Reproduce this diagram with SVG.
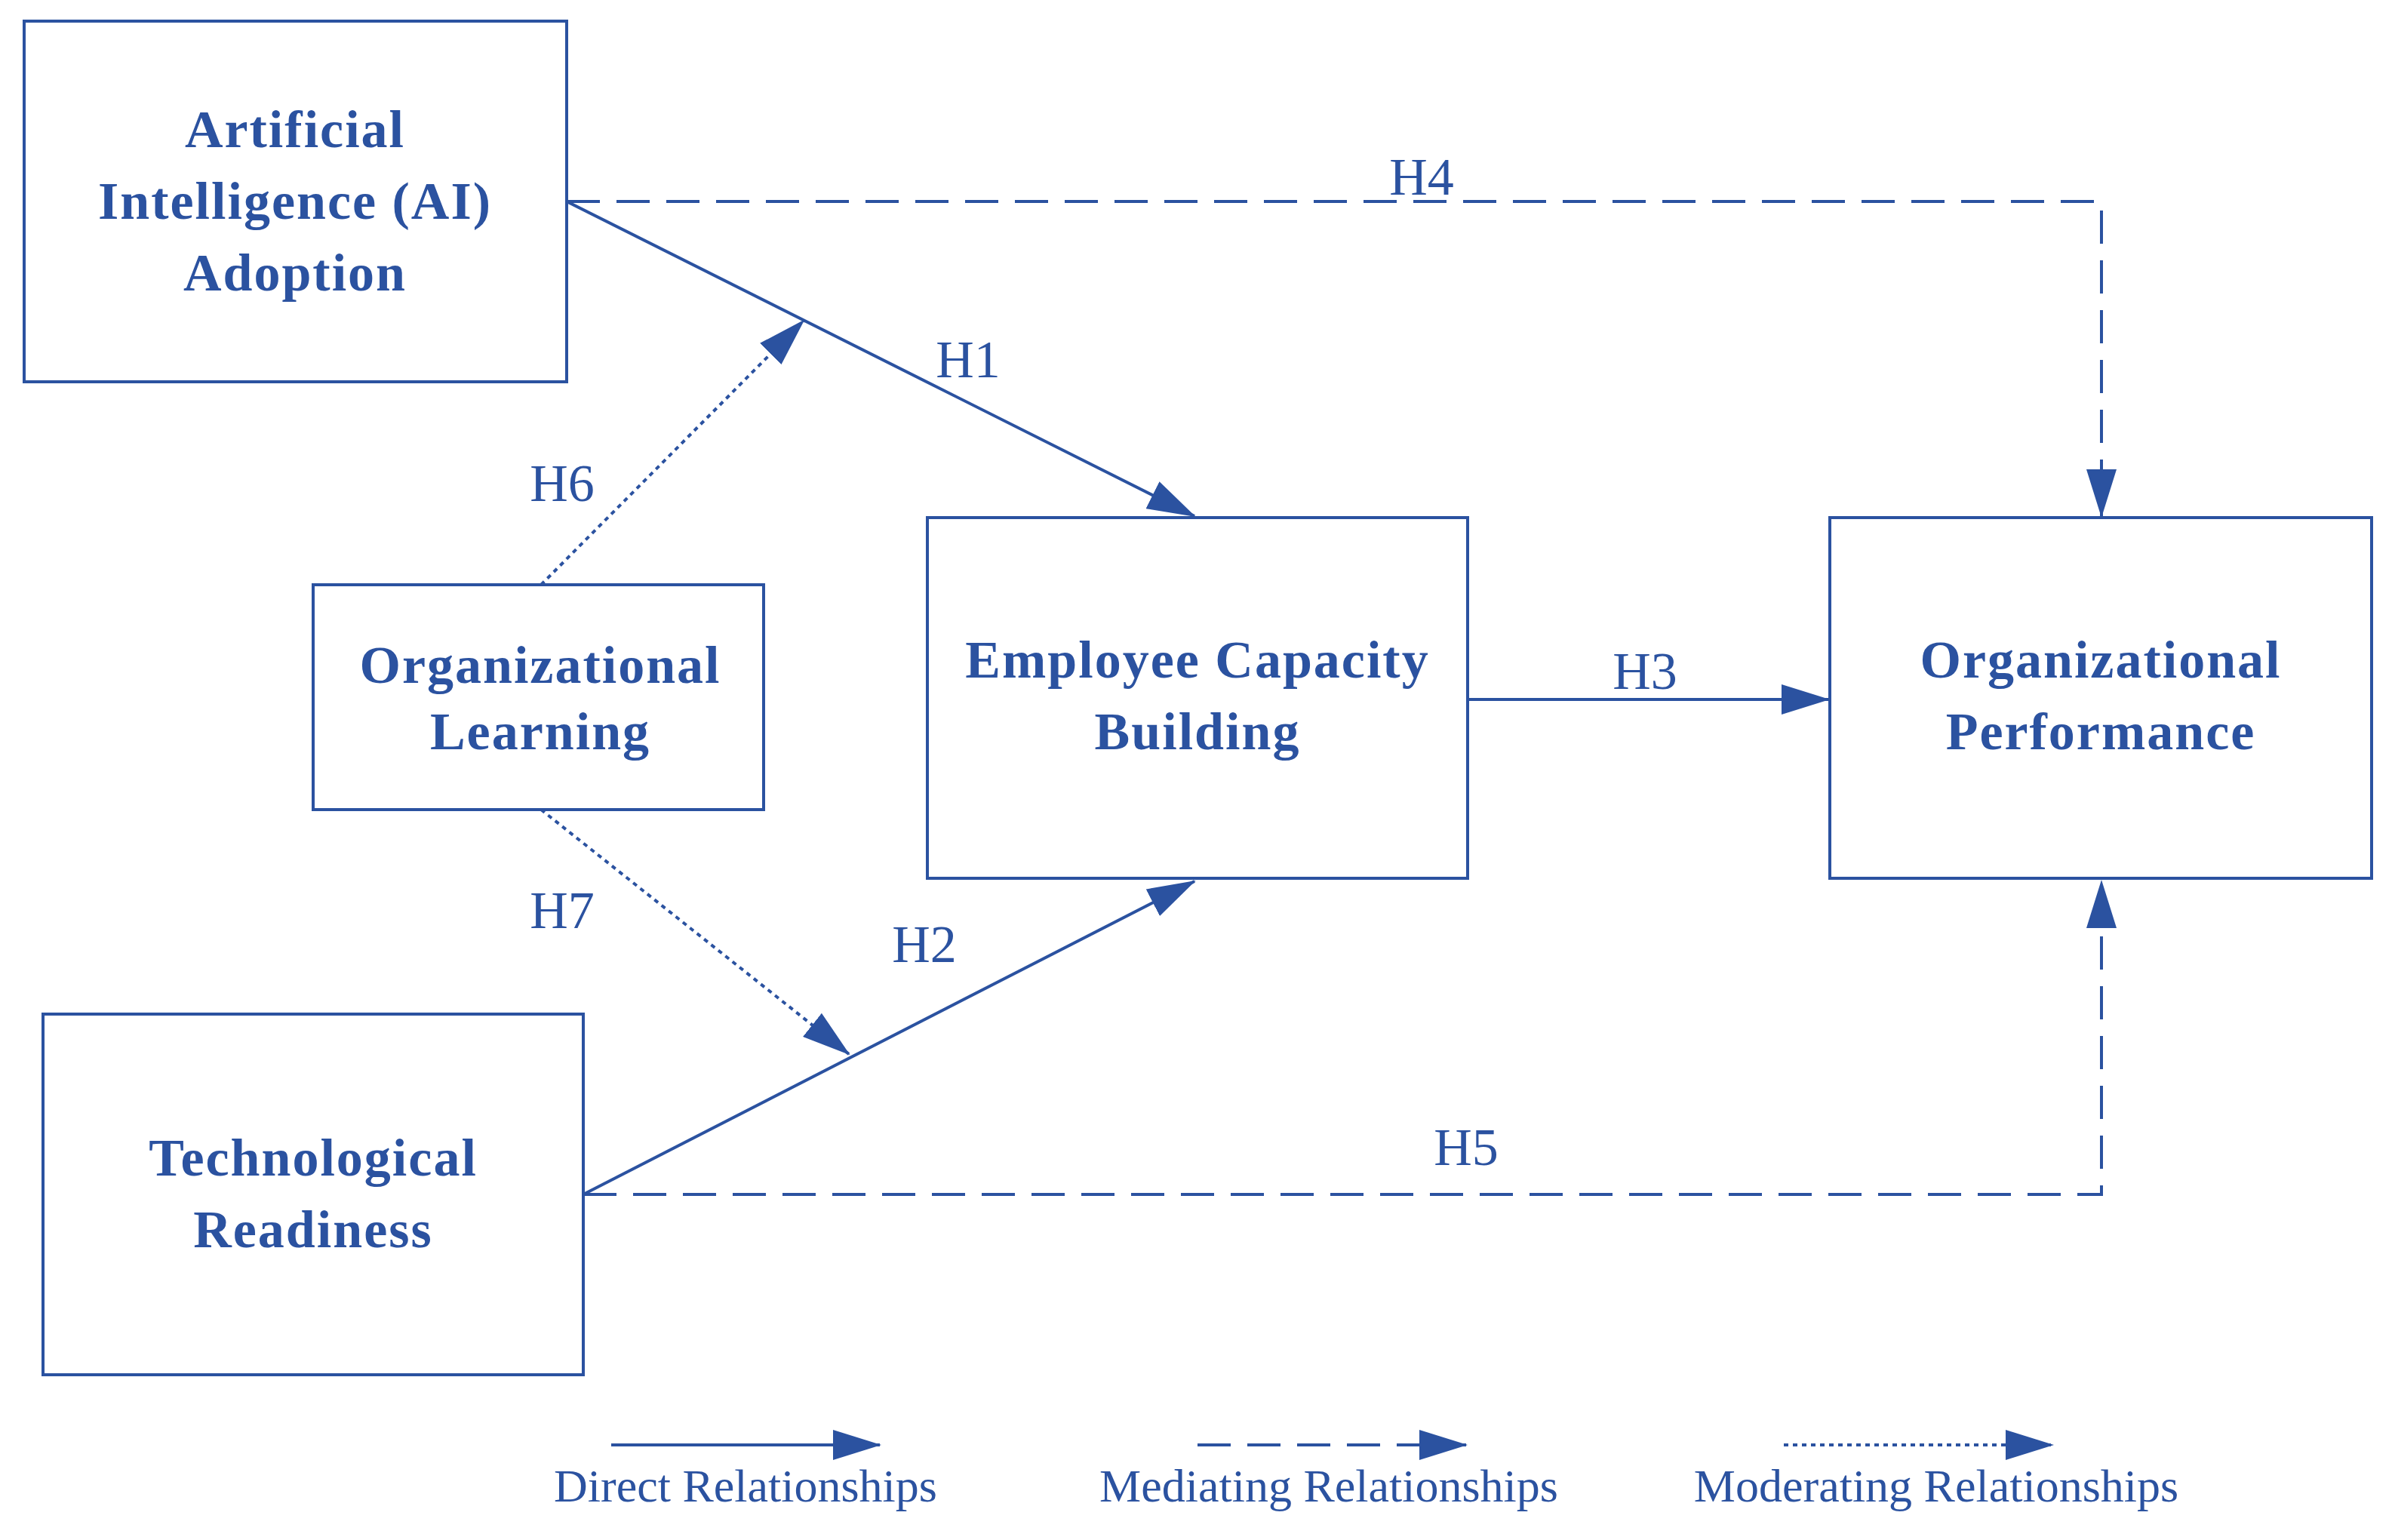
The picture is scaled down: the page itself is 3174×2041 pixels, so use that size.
<svg xmlns="http://www.w3.org/2000/svg" width="3174" height="2041" viewBox="0 0 3174 2041">
<style>
.box{fill:#fff;stroke:#2b52a0;stroke-width:4}
.nt{font-family:"Liberation Serif",serif;font-weight:bold;font-size:70px;fill:#2b52a0;text-anchor:middle;letter-spacing:2px}
.lb{font-family:"Liberation Serif",serif;font-size:70px;fill:#2b52a0;text-anchor:middle}
.lg{font-family:"Liberation Serif",serif;font-size:62px;fill:#2b52a0;text-anchor:middle}
.ln{fill:none;stroke:#2b52a0;stroke-width:4}
.d{stroke-dasharray:44 22}
.o{stroke-dasharray:6 6}
</style>
<defs>
<marker id="a" markerUnits="userSpaceOnUse" markerWidth="64" markerHeight="40" refX="62" refY="20" orient="auto"><path d="M0,0 L64,20 L0,40 Z" fill="#2b52a0"/></marker>
</defs>
<rect width="3174" height="2041" fill="#fff"/>
<g id="connectors">
<line class="ln" x1="751" y1="267" x2="1583" y2="684" marker-end="url(#a)"/>
<polyline class="ln d" points="751,267 2785,267 2785,684" marker-end="url(#a)"/>
<line class="ln" x1="1945" y1="927" x2="2423" y2="927" marker-end="url(#a)"/>
<line class="ln" x1="773" y1="1583" x2="1583" y2="1168" marker-end="url(#a)"/>
<polyline class="ln d" points="773,1583 2785,1583 2785,1168" marker-end="url(#a)"/>
<line class="ln o" x1="717" y1="775" x2="1065" y2="425" marker-end="url(#a)"/>
<line class="ln o" x1="717" y1="1073" x2="1125" y2="1397" marker-end="url(#a)"/>
<text class="lb" x="1884" y="258">H4</text>
<text class="lb" x="1283" y="500">H1</text>
<text class="lb" x="745" y="664">H6</text>
<text class="lb" x="2180" y="913">H3</text>
<text class="lb" x="745" y="1230">H7</text>
<text class="lb" x="1225" y="1275">H2</text>
<text class="lb" x="1943" y="1544">H5</text>
</g>
<g id="ai"><rect class="box" x="32" y="28" width="719" height="478"/>
<text class="nt" x="391" y="195">Artificial</text><text class="nt" x="391" y="290">Intelligence (AI)</text><text class="nt" x="391" y="385">Adoption</text></g>
<g id="ol"><rect class="box" x="415" y="775" width="597" height="298"/>
<text class="nt" x="716" y="905">Organizational</text><text class="nt" x="716" y="993">Learning</text></g>
<g id="ecb"><rect class="box" x="1229" y="686" width="716" height="478"/>
<text class="nt" x="1587" y="898">Employee Capacity</text><text class="nt" x="1587" y="993">Building</text></g>
<g id="op"><rect class="box" x="2425" y="686" width="718" height="478"/>
<text class="nt" x="2784" y="898">Organizational</text><text class="nt" x="2784" y="993">Performance</text></g>
<g id="tr"><rect class="box" x="57" y="1344" width="716" height="478"/>
<text class="nt" x="415" y="1558">Technological</text><text class="nt" x="415" y="1653">Readiness</text></g>
<g id="legend">
<line class="ln" x1="810" y1="1915" x2="1166" y2="1915" marker-end="url(#a)"/>
<line class="ln d" x1="1587" y1="1915" x2="1943" y2="1915" marker-end="url(#a)"/>
<line class="ln o" x1="2364" y1="1915" x2="2720" y2="1915" marker-end="url(#a)"/>
<text class="lg" x="988" y="1990">Direct Relationships</text>
<text class="lg" x="1761" y="1990">Mediating Relationships</text>
<text class="lg" x="2566" y="1990">Moderating Relationships</text>
</g>
</svg>
